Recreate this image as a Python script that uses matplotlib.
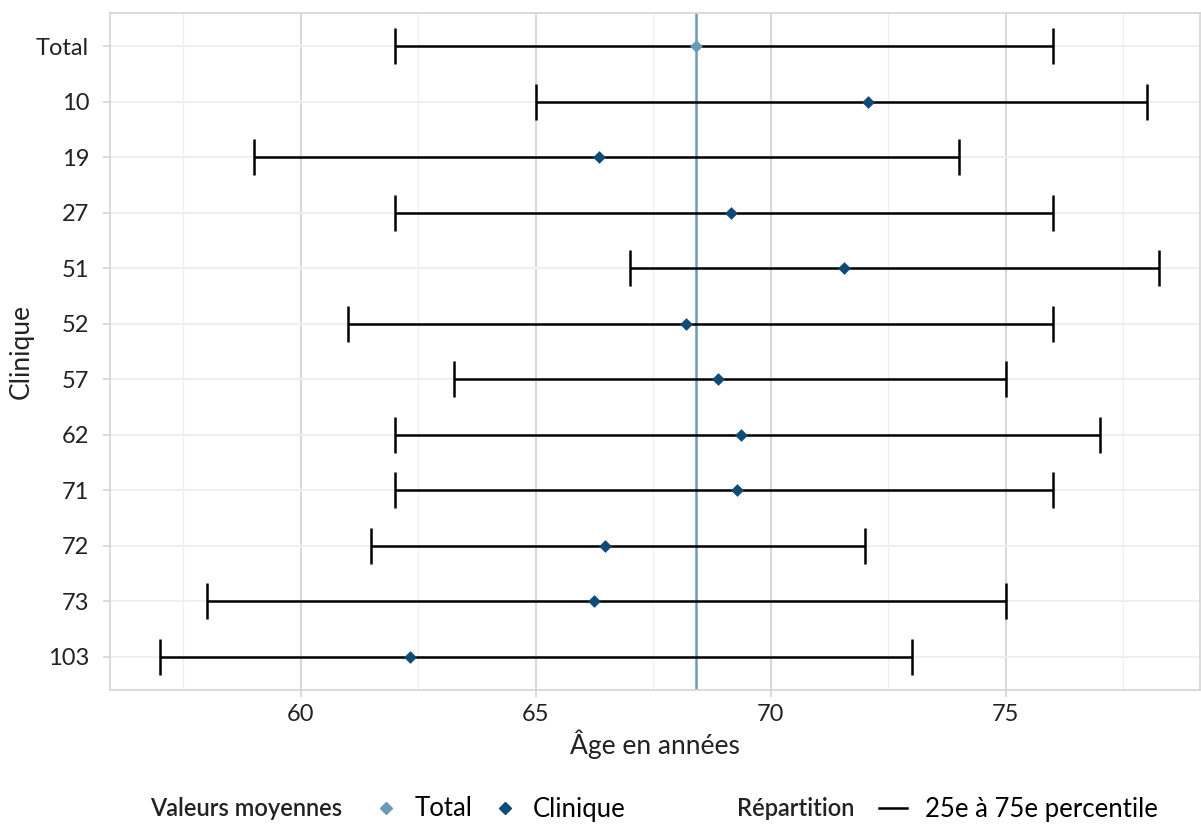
import matplotlib
matplotlib.use("Agg")
import matplotlib.pyplot as plt
from matplotlib.lines import Line2D
import numpy as np

plt.rcParams['font.family'] = ['Lato', 'DejaVu Sans']

categories = ["Total", "10", "19", "27", "51", "52", "57", "62", "71", "72", "73", "103"]
p25 = [62, 65, 59, 62, 67, 61, 63.25, 62, 62, 61.5, 58, 57]
p75 = [76, 78, 74, 76, 78.25, 76, 75, 77, 76, 72, 75, 73]
means = [68.4, 72.06, 66.34, 69.15, 71.55, 68.19, 68.87, 69.36, 69.28, 66.47, 66.23, 62.32]

col_total = "#6B9AB8"
col_clin = "#0E4C75"

fig = plt.figure(figsize=(12.01, 8.24), dpi=100)
ax = fig.add_axes([110/1201, 1-690/824, 1090/1201, (690-13)/824])

ypos = np.arange(len(categories))
# grid
ax.set_axisbelow(True)
ax.set_xticks([60, 65, 70, 75])
ax.set_xticks([57.5, 62.5, 67.5, 72.5, 77.5], minor=True)
ax.grid(True, axis='x', which='major', color='#D9D9D9', lw=1.5)
ax.grid(True, axis='x', which='minor', color='#EFEFEF', lw=0.9)
ax.grid(True, axis='y', which='major', color='#EFEFEF', lw=1.5)

# total mean vertical line
ax.axvline(means[0], color=col_total, lw=1.8, zorder=2)

# error bars
lo = np.array(means) - np.array(p25)
hi = np.array(p75) - np.array(means)
ax.errorbar(means, ypos, xerr=[lo, hi], fmt='none', ecolor='black', elinewidth=1.8,
            capsize=13, capthick=1.8, zorder=3)
ax.scatter([means[0]], [ypos[0]], marker='D', s=42, color=col_total, zorder=4, linewidths=0)
ax.scatter(means[1:], ypos[1:], marker='D', s=42, color=col_clin, zorder=4, linewidths=0)

ax.set_yticks(ypos)
ax.set_yticklabels(categories)
ax.set_ylim(len(categories) - 1 + 0.6, -0.6)
ax.set_xlim(55.94, 79.13)

for s in ax.spines.values():
    s.set_color('#D4D4D4')
    s.set_linewidth(1.2)
ax.tick_params(axis='both', colors='#D4D4D4', labelcolor='#222222', labelsize=17, length=5, width=1.2)
ax.tick_params(axis='y', pad=10)
ax.tick_params(axis='x', pad=5)
ax.tick_params(axis='x', which='minor', length=0)

ax.set_xlabel("Âge en années", fontsize=19, color='#222222', labelpad=3)
ax.set_ylabel("Clinique", fontsize=19, color='#222222', labelpad=2)

# legend
ly = 1 - 809/824
fig.text(150/1201, ly, "Valeurs moyennes", fontsize=17, fontweight='semibold', va='center', ha='left', color='#222222')
h1 = [Line2D([], [], marker='D', ls='none', color=col_total, markersize=6),
      Line2D([], [], marker='D', ls='none', color=col_clin, markersize=6)]
fig.legend(h1, ["Total", "Clinique"], loc='center left', bbox_to_anchor=(371/1201, ly),
           ncol=2, frameon=False, fontsize=18.5, handlelength=1.2, handletextpad=0.5, columnspacing=0.65,
           borderpad=0, borderaxespad=0)
fig.text(737/1201, ly, "Répartition", fontsize=17, fontweight='semibold', va='center', ha='left', color='#222222')
h2 = [Line2D([], [], color='black', lw=1.8)]
fig.legend(h2, ["25e à 75e percentile"], loc='center left', bbox_to_anchor=(879/1201, ly),
           frameon=False, fontsize=18.5, handlelength=1.1, handletextpad=0.7, borderpad=0, borderaxespad=0)

fig.savefig("out.png", dpi=100)
